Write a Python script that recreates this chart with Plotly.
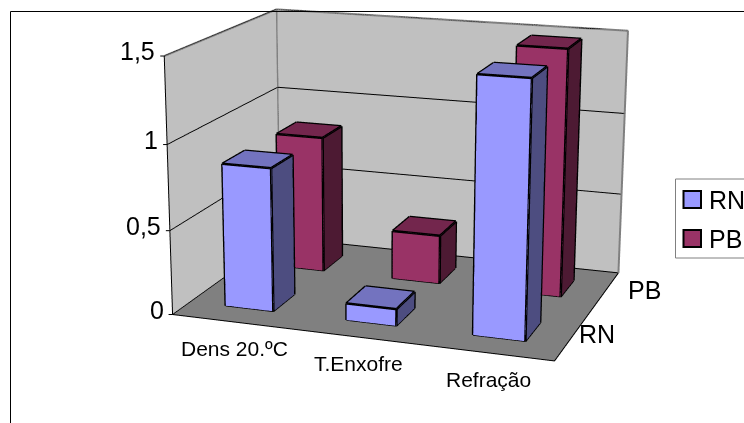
import plotly.graph_objects as go

categories = ["Dens 20.ºC", "T.Enxofre", "Refração"]
series_names = ["RN", "PB"]
rn_values = [0.85, 0.1, 1.47]
pb_values = [0.84, 0.3, 1.48]
z_ticks = [0, 0.5, 1, 1.5]
z_labels = ["0", "0,5", "1", "1,5"]
front_colors = ["#9999FF", "#993366"]
side_colors = ["#4D4D80", "#4D1A33"]
top_colors = ["#7373BF", "#73264D"]
BAR = 0.4
FONT = "Liberation Sans"

# The scene is drawn on a larger canvas, centred on the window, because a larger
# viewport flattens plotly's fixed 45-degree perspective to the reference's.
W, H = 2640, 1501
OX, OY = (W - 744) // 2, (H - 423) // 2


def px(x):
    return (x + OX) / W


def py(y):
    return 1 - (y + OY) / H


fig = go.Figure()


def add_bar(cx, cy, h, front, side, top):
    x0, x1 = cx - BAR / 2, cx + BAR / 2
    y0, y1 = cy - BAR / 2, cy + BAR / 2
    xs = [x0, x1, x1, x0, x0, x1, x1, x0]
    ys = [y0, y0, y1, y1, y0, y0, y1, y1]
    zs = [0, 0, 0, 0, h, h, h, h]
    faces = [
        (0, 1, 5, front), (0, 5, 4, front),
        (1, 2, 6, side), (1, 6, 5, side),
        (4, 5, 6, top), (4, 6, 7, top),
        (0, 1, 2, front), (0, 2, 3, front),
        (3, 2, 6, side), (3, 6, 7, side),
        (0, 3, 7, side), (0, 7, 4, side),
    ]
    fig.add_trace(go.Mesh3d(
        x=xs, y=ys, z=zs,
        i=[f[0] for f in faces], j=[f[1] for f in faces], k=[f[2] for f in faces],
        facecolor=[f[3] for f in faces], flatshading=True,
        lighting=dict(ambient=1, diffuse=0, specular=0, roughness=1, fresnel=0),
        hoverinfo="skip", showscale=False,
    ))
    edges = [(0, 1), (1, 5), (5, 4), (4, 0), (1, 2), (2, 6), (6, 5), (6, 7), (7, 4)]
    lx, ly, lz = [], [], []
    for a, b in edges:
        lx += [xs[a], xs[b], None]
        ly += [ys[a], ys[b], None]
        lz += [zs[a], zs[b], None]
    fig.add_trace(go.Scatter3d(x=lx, y=ly, z=lz, mode="lines",
                               line=dict(color="black", width=5), hoverinfo="skip"))


for s, values in enumerate([rn_values, pb_values]):
    for c, v in enumerate(values):
        add_bar(c + 0.5, s + 0.5, v, front_colors[s], side_colors[s], top_colors[s])

nx, ny, zmax = len(categories), len(series_names), z_ticks[-1]
fig.add_trace(go.Scatter3d(
    x=[0, 0, nx, nx, None, 0, 0],
    y=[0, ny, ny, ny, None, ny, ny],
    z=[zmax, zmax, zmax, 0, None, 0, zmax],
    mode="lines", line=dict(color="#808080", width=4), hoverinfo="skip"))
fig.add_trace(go.Scatter3d(
    x=[0, 0, nx, nx],
    y=[0, 0, 0, ny],
    z=[zmax, 0, 0, 0],
    mode="lines", line=dict(color="black", width=2), hoverinfo="skip"))

annots = []
tick = dict(text=" ", showarrow=True, arrowhead=0, arrowwidth=1, arrowcolor="black")
for c, name in enumerate(categories):
    annots.append(dict(x=c + 0.5, y=0, z=0, text=name, showarrow=False, xshift=2, yshift=-27,
                       font=dict(family=FONT, size=21, color="black")))
for c in range(nx + 1):
    annots.append(dict(x=c, y=0, z=0, ax=0, ay=7, **tick))
for s, (name, shift) in enumerate(zip(series_names, [25, 40])):
    annots.append(dict(x=nx, y=s + 0.5, z=0, text=name, showarrow=False, xshift=shift, yshift=3,
                       font=dict(family=FONT, size=25, color="black")))
for s in range(ny + 1):
    annots.append(dict(x=nx, y=s, z=0, ax=7, ay=0, **tick))
for v, name in zip(z_ticks, z_labels):
    annots.append(dict(x=0, y=0, z=v, text=name, showarrow=False, xanchor="right", xshift=-7, yshift=5,
                       font=dict(family=FONT, size=25, color="black")))
    annots.append(dict(x=0, y=0, z=v, ax=-7, ay=0, **tick))

fig.update_layout(
    width=W, height=H, margin=dict(l=0, r=0, t=0, b=0),
    paper_bgcolor="white", showlegend=False,
    scene=dict(
        domain=dict(x=[0, 1], y=[0, 1]),
        aspectmode="manual", aspectratio=dict(x=1.472, y=1.06, z=0.986),
        camera=dict(eye=dict(x=2.12, y=-6.347, z=1.755), center=dict(x=-0.098, y=-0.087, z=-0.149),
                    up=dict(x=0, y=0, z=1), projection=dict(type="perspective")),
        xaxis=dict(range=[0, nx], tickvals=[0, 1, 2, 3], showticklabels=False, showgrid=False, title="",
                   showbackground=True, backgroundcolor="#C0C0C0", zeroline=False, showspikes=False, ticks=""),
        yaxis=dict(range=[0, ny], tickvals=[0, 1, 2], showticklabels=False, showgrid=False, title="",
                   showbackground=True, backgroundcolor="#C0C0C0", zeroline=False, showspikes=False, ticks=""),
        zaxis=dict(range=[0, zmax], tickvals=z_ticks, showticklabels=False, showgrid=True, gridcolor="black",
                   gridwidth=2, title="", showbackground=True, backgroundcolor="#808080", zeroline=False,
                   showspikes=False, ticks=""),
        annotations=annots,
    ),
    shapes=[
        dict(type="rect", xref="paper", yref="paper", x0=px(10.5), x1=px(800), y0=py(500), y1=py(11.5),
             line=dict(color="black", width=1), layer="above"),
        dict(type="rect", xref="paper", yref="paper", x0=px(675.5), x1=px(800), y0=py(258), y1=py(179),
             line=dict(color="#808080", width=1), fillcolor="white", layer="above"),
        dict(type="rect", xref="paper", yref="paper", x0=px(683.5), x1=px(701), y0=py(208), y1=py(191),
             line=dict(color="black", width=2), fillcolor=front_colors[0], layer="above"),
        dict(type="rect", xref="paper", yref="paper", x0=px(683.5), x1=px(701), y0=py(247), y1=py(230),
             line=dict(color="black", width=2), fillcolor=front_colors[1], layer="above"),
    ],
    annotations=[
        dict(xref="paper", yref="paper", x=px(707), y=py(199.5), text=series_names[0], showarrow=False,
             xanchor="left", yanchor="middle", font=dict(family=FONT, size=25, color="black")),
        dict(xref="paper", yref="paper", x=px(707), y=py(238.5), text=series_names[1], showarrow=False,
             xanchor="left", yanchor="middle", font=dict(family=FONT, size=25, color="black")),
    ],
)
fig.write_html("out.html", config=dict(displayModeBar=False), default_width=W, default_height=H,
               post_script=("document.body.style.margin='0';document.body.style.overflow='hidden';"
                            "document.documentElement.style.overflow='hidden';"
                            "var g=document.getElementById('{plot_id}');g.style.position='absolute';"
                            "g.style.left='-%dpx';g.style.top='-%dpx';" % (OX, OY)))
